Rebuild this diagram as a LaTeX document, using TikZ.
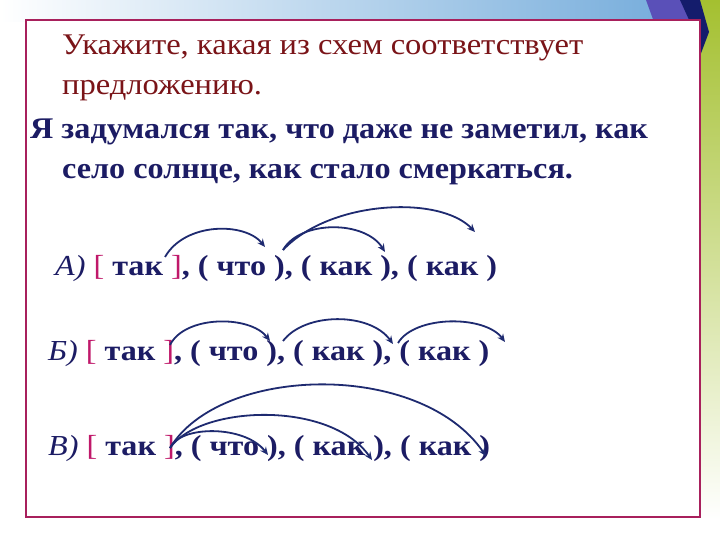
\documentclass[tikz,border=0pt]{standalone}
\usepackage{fontspec}
\setmainfont{Liberation Serif}
\usetikzlibrary{arrows.meta}
\definecolor{boxc}{HTML}{A8205C}
\definecolor{titlec}{HTML}{7A1418}
\definecolor{navy}{HTML}{1C1C64}
\definecolor{brk}{HTML}{C0186A}
\definecolor{arrc}{HTML}{1E2A70}
\definecolor{skyb}{HTML}{78AEDC}
\definecolor{grn}{HTML}{A4C030}
\definecolor{purp}{HTML}{5A50B8}
\definecolor{darkn}{HTML}{141C6C}
\tikzset{
  title/.style={anchor=base west,inner sep=0,text=titlec,font=\fontsize{30}{30}\selectfont},
  sent/.style={anchor=base west,inner sep=0,text=navy,font=\fontsize{30}{30}\selectfont\bfseries},
  scheme/.style={anchor=base west,inner sep=0,text=navy,font=\fontsize{29}{29}\selectfont\bfseries},
  arc/.style={draw=arrc,line width=1.8pt,-{Stealth[length=8pt,width=7pt]}},
}
\newcommand{\lb}{{\mdseries\color{brk}[}}
\newcommand{\rb}{{\mdseries\color{brk}]}}
\newcommand{\wt}[1]{\scalebox{1.085}[1]{#1}}
\newcommand{\ws}[1]{\scalebox{1.073}[1]{#1}}
\newcommand{\wc}[1]{\scalebox{1.108}[1]{#1}}
\begin{document}
\begin{tikzpicture}[x=1pt,y=-1pt]
\useasboundingbox (0,0) rectangle (720,540);
% background
\fill[white] (0,0) rectangle (720,540);
\shade[left color=white,right color=skyb] (0,0) rectangle (660,22);
\shade[top color=grn,bottom color=white] (700,0) rectangle (720,520);
\fill[purp] (646,0) -- (690,0) -- (690,22) -- (654,22) -- cycle;
\fill[darkn] (680,0) -- (700,0) -- (709,32) -- (700,56) -- (690,22) -- cycle;
% main box
\draw[boxc,line width=2pt,fill=white] (26,20) rectangle (700,517);
% texts
\node[title] (t1) at (62,55) {\wt{Укажите, какая из схем соответствует}};
\node[title] (t2) at (62,95) {\wt{предложению.}};
\node[sent] (s1) at (30,139) {\ws{Я задумался так, что даже не заметил, как}};
\node[sent] (s2) at (62,179) {\ws{село солнце, как стало смеркаться.}};
\node[scheme] (a) at (55,275) {\wc{{\mdseries\itshape А)} \lb\ так \rb, ( что ), ( как ), ( как )}};
\node[scheme] (b) at (48,360) {\wc{{\mdseries\itshape Б)} \lb\ так \rb, ( что ), ( как ), ( как )}};
\node[scheme] (c) at (48,455) {\wc{{\mdseries\itshape В)} \lb\ так \rb, ( что ), ( как ), ( как )}};
% arrow anchors
\coordinate (a1) at (165,257); \coordinate (a2) at (265,247);
\coordinate (a3) at (283,250); \coordinate (a4) at (385,252); \coordinate (a5) at (475,232);
\coordinate (b1) at (170,345); \coordinate (b2) at (270,341);
\coordinate (b3) at (283,341); \coordinate (b4) at (393,344);
\coordinate (b5) at (398,343); \coordinate (b6) at (505,342);
\coordinate (c0) at (170,448); \coordinate (c1) at (268,455);
\coordinate (c2) at (372,460); \coordinate (c3) at (486,456);
% arrows
\draw[arc] (a1) .. controls (185,222) and (245,222) .. (a2);
\draw[arc] (a3) .. controls (300,220) and (365,220) .. (a4);
\draw[arc] (a3) .. controls (330,200) and (440,195) .. (a5);
\draw[arc] (b1) .. controls (185,315) and (250,315) .. (b2);
\draw[arc] (b3) .. controls (305,312) and (370,312) .. (b4);
\draw[arc] (b5) .. controls (415,315) and (485,315) .. (b6);
\draw[arc] (c0) .. controls (180,425) and (245,425) .. (c1);
\draw[arc] (c0) .. controls (200,405) and (330,400) .. (c2);
\draw[arc] (c0) .. controls (220,365) and (420,360) .. (c3);
\end{tikzpicture}
\end{document}
